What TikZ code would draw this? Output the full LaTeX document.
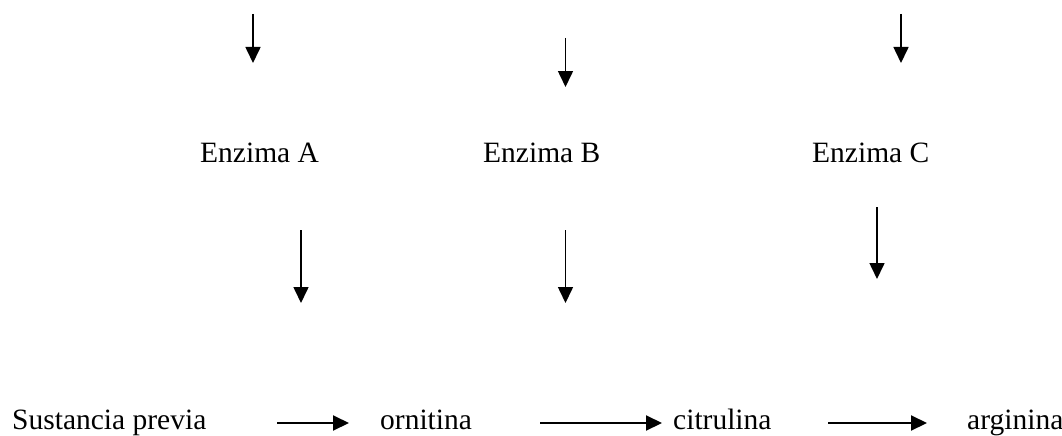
\documentclass[tikz,border=0pt]{standalone}
\usepackage{fontspec}
\setmainfont{Liberation Serif}
\usetikzlibrary{arrows.meta}
\begin{document}
\begin{tikzpicture}[x=1pt,y=-1pt,
  lbl/.style={inner sep=0pt,anchor=base west,font=\fontsize{29.5}{35}\selectfont},
  arr/.style={line width=1.6pt,-{Triangle[length=16pt,width=15pt]}},
  harr/.style={arr,line width=2pt}]
\useasboundingbox (0,0) rectangle (1062,436);
% labels
\node[lbl] (ea) at (200,162) {Enzima A};
\node[lbl] (eb) at (483,162) {Enzima B};
\node[lbl] (ec) at (812,162) {Enzima C};
\node[lbl] (sp) at (12,429) {Sustancia previa};
\node[lbl] (or) at (380,429) {ornitina};
\node[lbl] (ci) at (673,429) {citrulina};
\node[lbl] (ar) at (967,429) {arginina};
% top arrows
\coordinate (ta1) at (253,14);  \coordinate (ta2) at (253,63);
\coordinate (tb1) at (565.5,38); \coordinate (tb2) at (565.5,87);
\coordinate (tc1) at (901,14);  \coordinate (tc2) at (901,63);
% lower arrows
\coordinate (la1) at (301,230); \coordinate (la2) at (301,303);
\coordinate (lb1) at (565.5,230); \coordinate (lb2) at (565.5,303);
\coordinate (lc1) at (877,207); \coordinate (lc2) at (877,279);
% horizontal arrows
\coordinate (h11) at (277,423); \coordinate (h12) at (349,423);
\coordinate (h21) at (540,423); \coordinate (h22) at (662,423);
\coordinate (h31) at (828,423); \coordinate (h32) at (927,423);
\foreach \a/\b in {ta1/ta2,tb1/tb2,tc1/tc2,la1/la2,lb1/lb2,lc1/lc2}
  \draw[arr] (\a) -- (\b);
\foreach \a/\b in {h11/h12,h21/h22,h31/h32}
  \draw[harr] (\a) -- (\b);
\end{tikzpicture}
\end{document}
